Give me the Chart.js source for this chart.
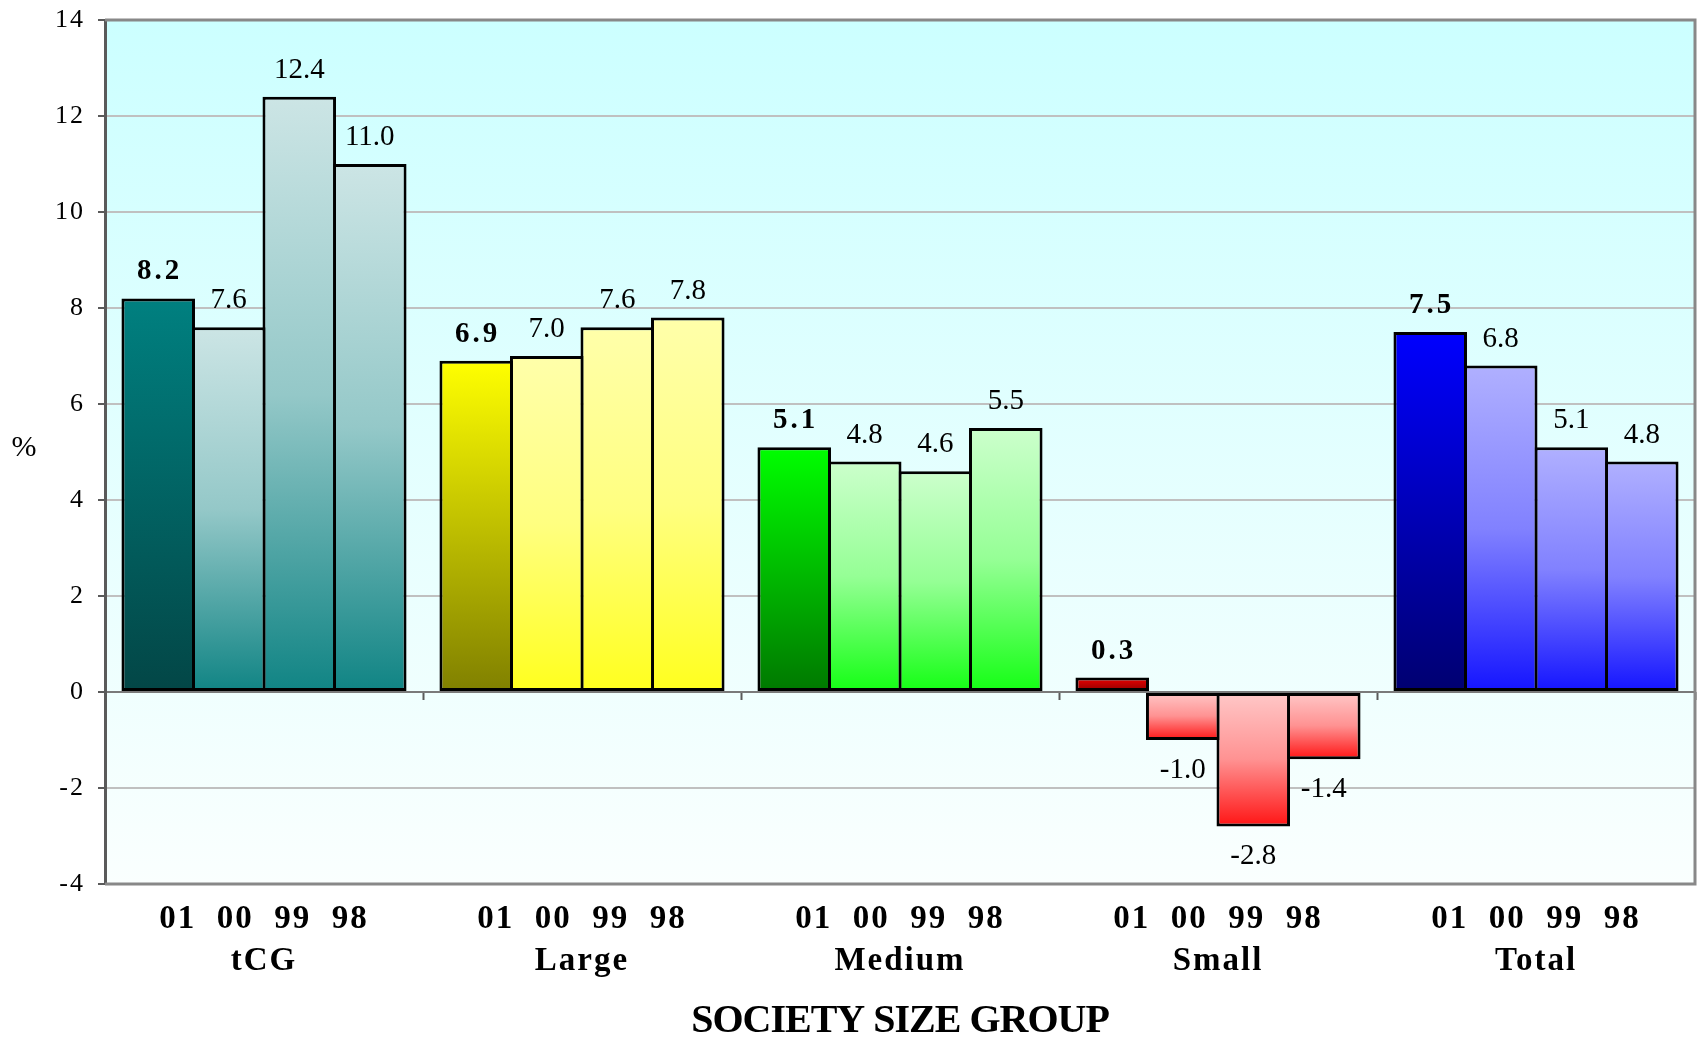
<!DOCTYPE html>
<html>
<head>
<meta charset="utf-8">
<title>Society size group</title>
<script src="https://cdn.jsdelivr.net/npm/chart.js@4.4.1/dist/chart.umd.min.js"></script>
<style>
	html, body { margin: 0; padding: 0; background: #fff; }
	#wrap { width: 1700px; height: 1042px; position: relative; }
</style>
</head>
<body>
<div id="wrap"><canvas id="growthChart"></canvas></div>
<script>
// years inside each group, newest first
const years = ["01", "00", "99", "98"];
const groups = ["tCG", "Large", "Medium", "Small", "Total"];

// growth, %, one array per year
const growth01 = [8.2, 6.9, 5.1, 0.3, 7.5];
const growth00 = [7.6, 7.0, 4.8, -1.0, 6.8];
const growth99 = [12.4, 7.6, 4.6, -2.8, 5.1];
const growth98 = [11.0, 7.8, 5.5, -1.4, 4.8];

const yMin = -4;
const yMax = 14;
const yStep = 2;

const SERIF = "'Liberation Serif', 'Times New Roman', serif";

// top/bottom colours: current year bar and earlier years
const groupColors = [
	{ now: ["#008080", "#034646"], past: ["#cce5e5", "#108484"] },
	{ now: ["#ffff00", "#808000"], past: ["#ffffaa", "#ffff1e"] },
	{ now: ["#00ff00", "#007800"], past: ["#ccffcc", "#14ff14"] },
	{ now: ["#ee0000", "#8a0000"], past: ["#ffc8c8", "#ff1414"] },
	{ now: ["#0000ff", "#000070"], past: ["#b0b0ff", "#1414ff"] },
];

function hexToRgb(hex) {
	const n = parseInt(hex.slice(1), 16);
	return [(n >> 16) & 255, (n >> 8) & 255, n & 255];
}

// a -> b by t
function mix(a, b, t) {
	const ca = hexToRgb(a);
	const cb = hexToRgb(b);
	const c = ca.map((v, i) => Math.round(v + (cb[i] - v) * t));
	return `rgb(${c[0]}, ${c[1]}, ${c[2]})`;
}

// vertical gradient over each bar's own extent
function barFill(c) {
	const chart = c.chart;
	const yScale = chart.scales.y;
	const col = groupColors[c.dataIndex] || groupColors[0];
	if (c.type !== "data" || !yScale) return col.past[1];
	const p0 = yScale.getPixelForValue(0);
	const p1 = yScale.getPixelForValue(c.raw);
	if (!isFinite(p0) || !isFinite(p1)) return col.past[1];
	const top = Math.min(p0, p1);
	const bottom = Math.max(p0, p1) + 0.01;
	const g = chart.ctx.createLinearGradient(0, top, 0, bottom);
	if (c.datasetIndex === 0) {
		g.addColorStop(0, col.now[0]);
		g.addColorStop(1, col.now[1]);
	} else {
		g.addColorStop(0, col.past[0]);
		g.addColorStop(0.5, mix(col.past[0], col.past[1], 0.3));
		g.addColorStop(1, col.past[1]);
	}
	return g;
}

// plot background + frame
const plotFrame = {
	id: "plotFrame",
	beforeDraw(chart) {
		const { ctx, chartArea: a } = chart;
		if (!a) return;
		const g = ctx.createLinearGradient(0, a.top, 0, a.bottom);
		g.addColorStop(0, "#ccffff");
		g.addColorStop(1, "#fafffe");
		ctx.save();
		ctx.fillStyle = g;
		ctx.fillRect(a.left, a.top, a.right - a.left, a.bottom - a.top);
		ctx.restore();
		// axis title is drawn with the grid layer, keep it tight
		ctx.letterSpacing = "-1px";
	},
	beforeDatasetsDraw(chart) {
		const { ctx, chartArea: a } = chart;
		ctx.save();
		ctx.strokeStyle = "#888888";
		ctx.lineWidth = 3;
		ctx.beginPath();
		ctx.moveTo(a.left, a.top);
		ctx.lineTo(a.right, a.top);
		ctx.lineTo(a.right, a.bottom);
		ctx.lineTo(a.left, a.bottom);
		ctx.stroke();
		ctx.restore();
	},
	afterDraw(chart) {
		const { ctx, chartArea: a } = chart;
		ctx.save();
		ctx.letterSpacing = "0px";
		ctx.fillStyle = "#000";
		ctx.font = `30px ${SERIF}`;
		ctx.textAlign = "center";
		ctx.textBaseline = "middle";
		ctx.fillText("%", 24, (a.top + a.bottom) / 2 - 4);
		ctx.restore();
		ctx.letterSpacing = "0px";
	},
};

// value above (or below) every bar
const valueLabels = {
	id: "valueLabels",
	afterDatasetsDraw(chart) {
		const ctx = chart.ctx;
		ctx.save();
		ctx.fillStyle = "#000";
		ctx.textAlign = "center";
		ctx.textBaseline = "alphabetic";
		chart.data.datasets.forEach((ds, di) => {
			const meta = chart.getDatasetMeta(di);
			const spacing = di === 0 ? 3 : 0;
			ctx.font = di === 0 ? `bold 29px ${SERIF}` : `29px ${SERIF}`;
			ctx.letterSpacing = spacing + "px";
			meta.data.forEach((bar, i) => {
				const v = ds.data[i];
				const y = v >= 0 ? bar.y - 19 : bar.y + 38;
				ctx.fillText(v.toFixed(1), bar.x + spacing / 2, y);
			});
		});
		ctx.restore();
		// tick labels come next (ticks.z = 1)
		ctx.letterSpacing = "2px";
	},
};

const series = [growth01, growth00, growth99, growth98];

const ctx = document.getElementById("growthChart");

const growthChart = new Chart(ctx, {
	type: "bar",
	data: {
		labels: groups.map((g) => [years.join("  "), g]),
		datasets: series.map((values, i) => ({
			label: years[i],
			data: values,
			backgroundColor: barFill,
			borderColor: "#000",
			borderWidth: 3,
			borderSkipped: false,
			categoryPercentage: 0.887,
			barPercentage: 1.043,
		})),
	},
	options: {
		responsive: true,
		maintainAspectRatio: false,
		animation: false,
		layout: {
			padding: { left: 0, right: 5, top: 20, bottom: 0 },
		},
		plugins: {
			legend: { display: false },
			tooltip: { enabled: false },
		},
		scales: {
			x: {
				position: "bottom",
				offset: true,
				grid: { display: false },
				border: { display: false },
				ticks: {
					z: 1,
					color: "#000",
					padding: 7,
					maxRotation: 0,
					autoSkip: false,
					font: { family: SERIF, size: 33, weight: "bold", lineHeight: 1.27 },
				},
				title: {
					display: true,
					text: "SOCIETY SIZE GROUP",
					color: "#000",
					padding: 0,
					font: { family: SERIF, size: 40, weight: "bold", lineHeight: 1.0 },
				},
				afterFit(scale) {
					scale.height = 158;
				},
			},
			// tick marks on the zero line between groups
			xz: {
				type: "category",
				axis: "x",
				position: { y: 0 },
				offset: true,
				grid: {
					offset: true,
					drawOnChartArea: false,
					tickLength: 8,
					tickWidth: 2,
					tickColor: "#5a5a5a",
				},
				border: { display: false },
				ticks: { display: false },
			},
			y: {
				min: yMin,
				max: yMax,
				ticks: {
					z: 1,
					stepSize: yStep,
					color: "#000",
					padding: 13,
					font: { family: SERIF, size: 26 },
				},
				grid: {
					color: (c) => (c.tick && c.tick.value === 0 ? "#7a7a7a" : "#c0c0c0"),
					lineWidth: 2,
					tickLength: 7,
					tickWidth: 2,
					tickColor: "#5a5a5a",
				},
				border: { color: "#5a5a5a", width: 3 },
				afterFit(scale) {
					scale.width = 105;
					scale.paddingTop = 0;
					scale.paddingBottom = 0;
				},
			},
		},
	},
	plugins: [plotFrame, valueLabels],
});
</script>
</body>
</html>
